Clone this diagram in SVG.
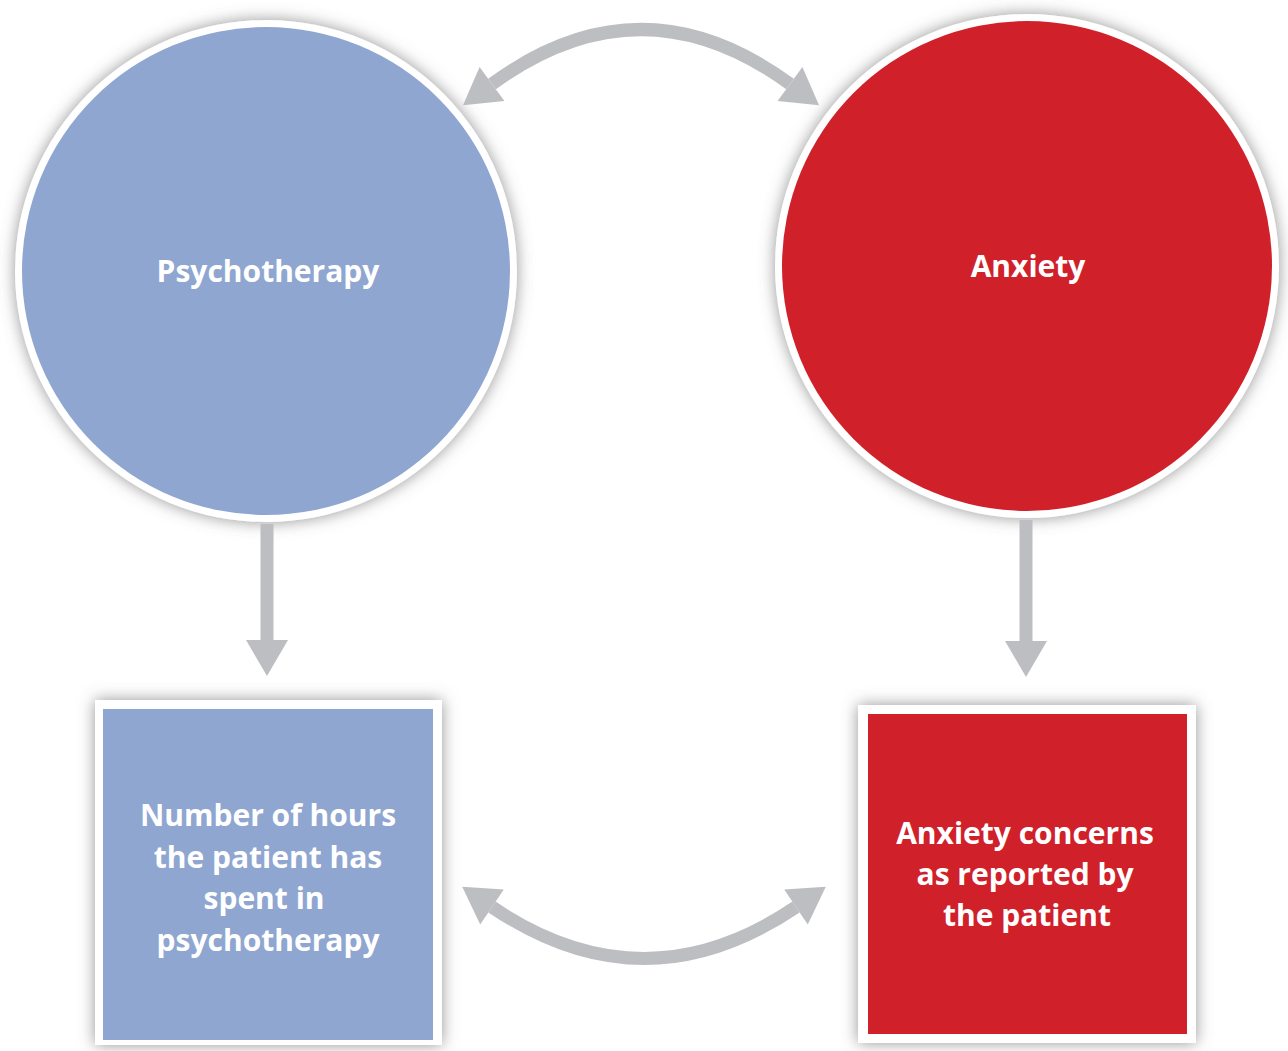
<svg xmlns="http://www.w3.org/2000/svg" width="1288" height="1051" viewBox="0 0 1288 1051">
<style>
.lbl{font-family:"Open Sans","Liberation Sans",sans-serif;font-weight:700;font-size:30px;fill:#ffffff;text-anchor:middle}
.blue{fill:#8FA6D1}
.red{fill:#D0202A}
.ring{fill:#ffffff;filter:url(#sh)}
.conn{fill:none;stroke:#BDBEC1;stroke-width:13}
</style>
<defs>
<filter id="sh" x="-20%" y="-20%" width="140%" height="140%">
<feDropShadow dx="0" dy="0" stdDeviation="8" flood-color="#666" flood-opacity="0.7"/>
</filter>
<marker id="ah" markerUnits="userSpaceOnUse" markerWidth="40" markerHeight="46" viewBox="0 -23 37 46" refX="0" refY="0" orient="auto-start-reverse">
<path d="M0,-21 L36,0 L0,21 z" fill="#BDBEC1"/>
</marker>
</defs>
<rect width="1288" height="1051" fill="#ffffff"/>
<g id="psychotherapy">
<circle class="ring" cx="266" cy="271" r="251"/>
<circle class="blue" cx="266" cy="271" r="244"/>
<text class="lbl" x="268" y="282">Psychotherapy</text>
</g>
<g id="anxiety">
<circle class="ring" cx="1027" cy="266" r="252"/>
<circle class="red" cx="1027" cy="266" r="245"/>
<text class="lbl" x="1028" y="277">Anxiety</text>
</g>
<g id="hours">
<rect class="ring" x="95" y="700" width="347" height="345"/>
<rect class="blue" x="103" y="709" width="330" height="331"/>
<text class="lbl" x="268" y="826">Number of hours</text>
<text class="lbl" x="268" y="868">the patient has</text>
<text class="lbl" x="264" y="909">spent in</text>
<text class="lbl" x="268" y="951">psychotherapy</text>
</g>
<g id="concerns">
<rect class="ring" x="858" y="705" width="338" height="338"/>
<rect class="red" x="868" y="714" width="319" height="320"/>
<text class="lbl" x="1025" y="844">Anxiety concerns</text>
<text class="lbl" x="1025" y="885">as reported by</text>
<text class="lbl" x="1027" y="926">the patient</text>
</g>
<g id="connectors">
<path class="conn" d="M492 84 Q641 -25 790 84" marker-start="url(#ah)" marker-end="url(#ah)"/>
<path class="conn" d="M492 907 Q644 1010 796 907" marker-start="url(#ah)" marker-end="url(#ah)"/>
<path class="conn" d="M267 524 L267 640" marker-end="url(#ah)"/>
<path class="conn" d="M1026 520 L1026 641" marker-end="url(#ah)"/>
</g>
</svg>
